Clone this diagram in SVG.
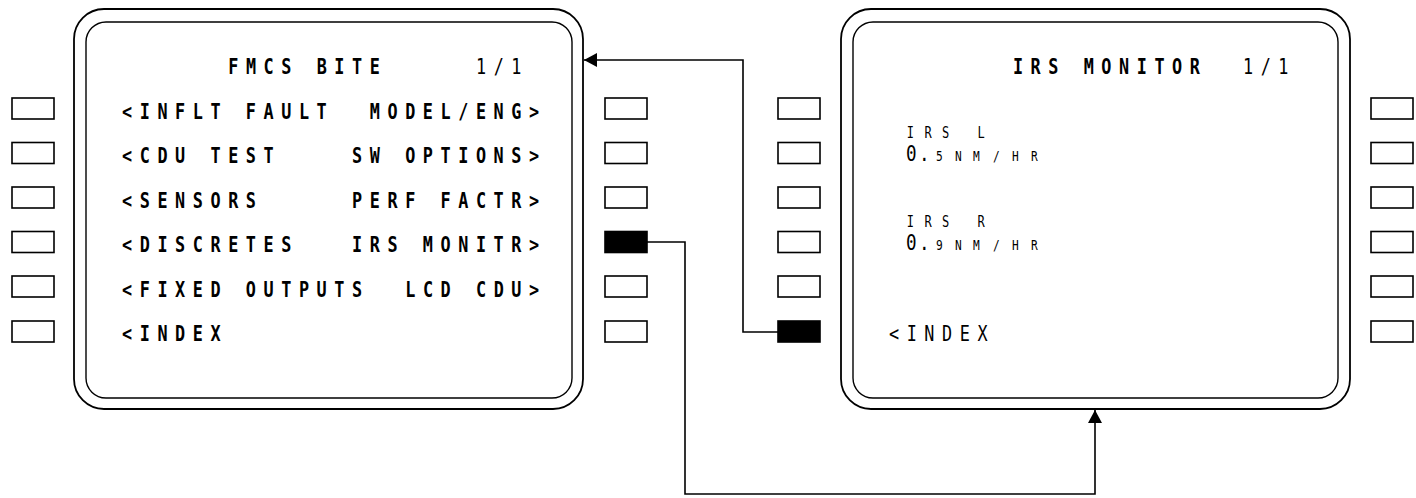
<svg xmlns="http://www.w3.org/2000/svg" width="1416" height="498" viewBox="0 0 1416 498">
<defs>
<style>
.bg{fill:#fff}
.outer{fill:none;stroke:#000;stroke-width:1.8}
.inner{fill:none;stroke:#000;stroke-width:1.4}
.key{fill:#fff;stroke:#000;stroke-width:1.6}
.keyon{fill:#000;stroke:#000;stroke-width:1.6}
.t{font-family:"DejaVu Sans Mono","Liberation Mono",monospace;font-size:21px;letter-spacing:9.48px;fill:#000}
.b{font-weight:bold}
.s{font-family:"DejaVu Sans Mono","Liberation Mono",monospace;font-size:15px;letter-spacing:13.1px;fill:#000}
.sm{font-family:"DejaVu Sans Mono","Liberation Mono",monospace;font-size:14px;fill:#000}
.big{font-family:"DejaVu Sans Mono","Liberation Mono",monospace;font-size:22px;fill:#000}
.conn{fill:none;stroke:#000;stroke-width:1.6}
</style>
<marker id="ah" viewBox="0 0 13 14" refX="13" refY="7" markerWidth="13" markerHeight="14" markerUnits="userSpaceOnUse" orient="auto">
<path d="M0,0 L13,7 L0,14 Z" fill="#000"/>
</marker>
</defs>
<rect class="bg" x="0" y="0" width="1416" height="498"/>

<g id="fmcs-bite">
<rect class="outer" x="74" y="9" width="509" height="400" rx="30" ry="30"/>
<rect class="inner" x="86" y="22" width="486" height="376" rx="20" ry="20"/>
<g transform="scale(0.8,1)">
<text class="t b" x="285.25" y="74">FMCS BITE</text>
<text class="t" x="595" y="74">1/1</text>
<text class="t b" x="152.5" y="119">&lt;INFLT FAULT</text>
<text class="t b" x="462.25" y="119">MODEL/ENG&gt;</text>
<text class="t b" x="152.5" y="163.5">&lt;CDU TEST</text>
<text class="t b" x="440.1" y="163.5">SW OPTIONS&gt;</text>
<text class="t b" x="152.5" y="208">&lt;SENSORS</text>
<text class="t b" x="440.1" y="208">PERF FACTR&gt;</text>
<text class="t b" x="152.5" y="252.5">&lt;DISCRETES</text>
<text class="t b" x="440.1" y="252.5">IRS MONITR&gt;</text>
<text class="t b" x="152.5" y="297">&lt;FIXED OUTPUTS</text>
<text class="t b" x="506.5" y="297">LCD CDU&gt;</text>
<text class="t b" x="152.5" y="341.5">&lt;INDEX</text>
</g>
</g>

<g id="fmcs-bite-keys">
<rect class="key" x="12" y="98" width="42" height="21"/>
<rect class="key" x="12" y="142.5" width="42" height="21"/>
<rect class="key" x="12" y="187" width="42" height="21"/>
<rect class="key" x="12" y="231.5" width="42" height="21"/>
<rect class="key" x="12" y="276" width="42" height="21"/>
<rect class="key" x="12" y="321" width="42" height="21"/>
<rect class="key" x="605" y="98" width="42" height="21"/>
<rect class="key" x="605" y="142.5" width="42" height="21"/>
<rect class="key" x="605" y="187" width="42" height="21"/>
<rect class="keyon" x="605" y="231.5" width="42" height="21"/>
<rect class="key" x="605" y="276" width="42" height="21"/>
<rect class="key" x="605" y="321" width="42" height="21"/>
</g>

<g id="irs-monitor">
<rect class="outer" x="841" y="9" width="509" height="400" rx="30" ry="30"/>
<rect class="inner" x="853" y="22" width="485" height="376" rx="20" ry="20"/>
<g transform="scale(0.8,1)">
<text class="t b" x="1266.1" y="74">IRS MONITOR</text>
<text class="t" x="1553.75" y="74">1/1</text>
<text class="s" x="1133.4" y="138">IRS L</text>
<text class="big" y="161"><tspan x="1132.5">0</tspan><tspan x="1148.75">.</tspan></text>
<text class="sm" y="161"><tspan x="1170">5</tspan><tspan x="1193.75">N</tspan><tspan x="1216.25">M</tspan><tspan x="1241.25">/</tspan><tspan x="1265">H</tspan><tspan x="1288.75">R</tspan></text>
<text class="s" x="1133.4" y="227">IRS R</text>
<text class="big" y="250"><tspan x="1132.5">0</tspan><tspan x="1148.75">.</tspan></text>
<text class="sm" y="250"><tspan x="1170">9</tspan><tspan x="1193.75">N</tspan><tspan x="1216.25">M</tspan><tspan x="1241.25">/</tspan><tspan x="1265">H</tspan><tspan x="1288.75">R</tspan></text>
<text class="t" x="1111.25" y="341.5">&lt;INDEX</text>
</g>
</g>

<g id="irs-monitor-keys">
<rect class="key" x="778" y="98" width="42" height="21"/>
<rect class="key" x="778" y="142.5" width="42" height="21"/>
<rect class="key" x="778" y="187" width="42" height="21"/>
<rect class="key" x="778" y="231.5" width="42" height="21"/>
<rect class="key" x="778" y="276" width="42" height="21"/>
<rect class="keyon" x="778" y="321" width="42" height="21"/>
<rect class="key" x="1371" y="98" width="42" height="21"/>
<rect class="key" x="1371" y="142.5" width="42" height="21"/>
<rect class="key" x="1371" y="187" width="42" height="21"/>
<rect class="key" x="1371" y="231.5" width="42" height="21"/>
<rect class="key" x="1371" y="276" width="42" height="21"/>
<rect class="key" x="1371" y="321" width="42" height="21"/>
</g>

<g id="connectors">
<path class="conn" d="M778,332 H743 V60 H584" marker-end="url(#ah)"/>
<path class="conn" d="M647,242 H685 V494 H1095 V410" marker-end="url(#ah)"/>
</g>
</svg>
